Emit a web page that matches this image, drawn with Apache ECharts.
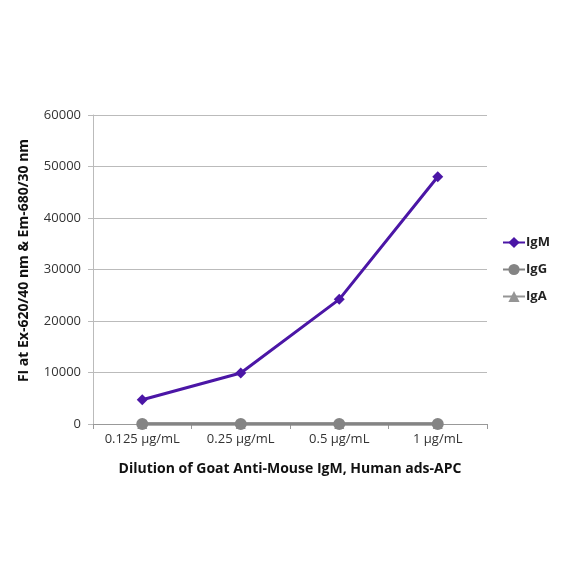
<!DOCTYPE html>
<html>
<head>
<meta charset="utf-8">
<script src="https://cdn.jsdelivr.net/npm/echarts@6/dist/echarts.min.js"></script>
<style>
  html, body { margin: 0; padding: 0; background: #fff; }
  #chart { width: 584px; height: 584px; }
</style>
</head>
<body>
<div id="chart"></div>
<script>
// dilutions on the x axis
var dilutions = ['0.125 µg/mL', '0.25 µg/mL', '0.5 µg/mL', '1 µg/mL'];
// fluorescence intensity per antibody class
var igmValues = [4700, 9900, 24200, 48000];
var iggValues = [0, 0, 0, 0];
var igaValues = [0, 0, 0, 0];

var chart = echarts.init(document.getElementById('chart'));
var font = 'Open Sans';

chart.setOption({
  animation: false,
  grid: { left: 93, right: 97, top: 115, bottom: 160 },
  legend: {
    orient: 'vertical',
    left: 497,
    top: 231,
    itemGap: 14,
    itemWidth: 22,
    itemHeight: 14,
    textStyle: { fontFamily: font, fontSize: 13, fontWeight: 'bold', color: '#222', padding: [0, 0, 0, -4] },
    data: ['IgM', 'IgG', 'IgA']
  },
  xAxis: {
    type: 'category',
    data: dilutions,
    boundaryGap: true,
    name: 'Dilution of Goat Anti-Mouse IgM, Human ads-APC',
    nameLocation: 'middle',
    nameGap: 38,
    nameTextStyle: { fontFamily: font, fontSize: 14, fontWeight: 'bold', color: '#111' },
    axisLine: { lineStyle: { color: '#999', width: 1 } },
    axisTick: { show: true, alignWithLabel: false, length: 5, lineStyle: { color: '#999' } },
    axisLabel: { fontFamily: font, fontSize: 13, color: '#333', margin: 9 }
  },
  yAxis: {
    type: 'value',
    min: 0,
    max: 60000,
    interval: 10000,
    name: 'FI at Ex-620/40 nm & Em-680/30 nm',
    nameLocation: 'middle',
    nameGap: 62,
    nameTextStyle: { fontFamily: font, fontSize: 14, fontWeight: 'bold', color: '#111', padding: [0, 0, 0, 18] },
    axisLine: { show: true, lineStyle: { color: '#bbb' } },
    axisTick: { show: true, length: 5, lineStyle: { color: '#bbb' } },
    axisLabel: {
      fontFamily: font, fontSize: 13, color: '#333', margin: 12,
      formatter: function (v) { return String(v); }
    },
    splitLine: { lineStyle: { color: '#bbb', width: 1 } }
  },
  series: [
    {
      name: 'IgA',
      type: 'line',
      data: igaValues,
      symbol: 'triangle',
      symbolSize: 10,
      itemStyle: { color: '#959595' },
      lineStyle: { color: '#959595', width: 3 }
    },
    {
      name: 'IgG',
      type: 'line',
      data: iggValues,
      symbol: 'circle',
      symbolSize: 12,
      itemStyle: { color: '#848484' },
      lineStyle: { color: '#848484', width: 3.5 }
    },
    {
      name: 'IgM',
      type: 'line',
      data: igmValues,
      symbol: 'diamond',
      symbolSize: 11,
      itemStyle: { color: '#4B16A6' },
      lineStyle: { color: '#4B16A6', width: 3 }
    }
  ]
});
</script>
</body>
</html>
